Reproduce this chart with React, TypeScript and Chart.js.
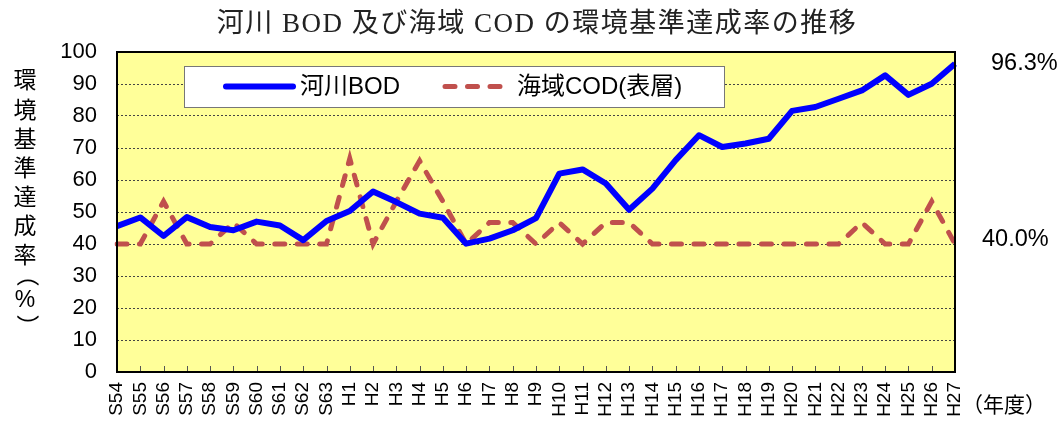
import { useEffect, useRef } from 'react';
import { Chart, registerables } from 'chart.js';

Chart.register(...registerables);

const categories = [
  'S54', 'S55', 'S56', 'S57', 'S58', 'S59', 'S60', 'S61', 'S62', 'S63',
  'H1', 'H2', 'H3', 'H4', 'H5', 'H6', 'H7', 'H8', 'H9', 'H10',
  'H11', 'H12', 'H13', 'H14', 'H15', 'H16', 'H17', 'H18', 'H19', 'H20',
  'H21', 'H22', 'H23', 'H24', 'H25', 'H26', 'H27',
];

const riverBOD = [
  45.6, 48.3, 42.5, 48.4, 45.3, 44.3, 47.0, 45.8, 41.2, 47.2,
  50.3, 56.4, 53.1, 49.5, 48.2, 40.1, 41.7, 44.3, 48.1, 62.0,
  63.3, 58.9, 50.7, 57.3, 66.2, 74.0, 70.3, 71.4, 72.9, 81.6,
  82.8, 85.4, 88.0, 92.7, 86.6, 90.1, 96.3,
];

const seaCOD = [
  40.0, 40.0, 53.3, 40.0, 40.0, 46.7, 40.0, 40.0, 40.0, 40.0,
  66.7, 40.0, 53.3, 66.0, 53.3, 40.0, 46.7, 46.7, 40.0, 46.7,
  40.0, 46.7, 46.7, 40.0, 40.0, 40.0, 40.0, 40.0, 40.0, 40.0,
  40.0, 40.0, 46.7, 40.0, 40.0, 53.3, 40.0,
];

const yTickValues = [0, 10, 20, 30, 40, 50, 60, 70, 80, 90, 100];

const titleText = '河川 BOD 及び海域 COD の環境基準達成率の推移';
const yTitleChars = ['環', '境', '基', '準', '達', '成', '率', '（', '%', '）'];
const seriesNames = ['河川BOD', '海域COD(表層)'];
const xUnitText = '（年度）';

const SANS = "'Liberation Sans', 'Noto Sans CJK JP', sans-serif";
const CJK = "'Liberation Sans', 'Noto Sans CJK JP', sans-serif";
const SERIF = "'Liberation Serif', 'Noto Sans CJK JP', serif";

const BLUE = '#0000FF';
const RED = '#C0504D';

export default function App() {
  const canvasRef = useRef<HTMLCanvasElement | null>(null);

  useEffect(() => {
    document.body.style.margin = '0';
    const canvas = canvasRef.current;
    if (!canvas) return;

    const decor = {
      id: 'decor',
      beforeDraw(chart: any) {
        const { ctx, chartArea: a } = chart;
        ctx.save();
        ctx.fillStyle = '#ffffff';
        ctx.fillRect(0, 0, chart.width, chart.height);
        ctx.fillStyle = '#FFFF99';
        ctx.fillRect(a.left, a.top, a.right - a.left, a.bottom - a.top);
        ctx.restore();
      },
      afterDraw(chart: any) {
        const { ctx, chartArea: a } = chart;
        const xs = chart.scales.x;
        const ys = chart.scales.y;
        ctx.save();

        // x tick marks (inward)
        ctx.strokeStyle = '#555';
        ctx.lineWidth = 1;
        for (let i = 1; i < categories.length - 1; i++) {
          const px = Math.round(xs.getPixelForValue(i)) + 0.5;
          ctx.beginPath();
          ctx.moveTo(px, a.bottom);
          ctx.lineTo(px, a.bottom - 6);
          ctx.stroke();
        }

        // frame
        ctx.strokeStyle = '#000';
        ctx.lineWidth = 2;
        ctx.strokeRect(a.left, a.top, a.right - a.left, a.bottom - a.top);

        // legend
        const lx = 184, ly = 66, lw = 540, lh = 41;
        ctx.fillStyle = '#fff';
        ctx.fillRect(lx, ly, lw, lh);
        ctx.strokeStyle = '#777';
        ctx.lineWidth = 1;
        ctx.strokeRect(lx + 0.5, ly + 0.5, lw, lh);
        const cy = ly + lh / 2;
        ctx.lineCap = 'round';
        ctx.strokeStyle = BLUE;
        ctx.lineWidth = 6;
        ctx.beginPath();
        ctx.moveTo(226, cy);
        ctx.lineTo(293, cy);
        ctx.stroke();
        ctx.strokeStyle = RED;
        ctx.lineWidth = 5;
        ctx.setLineDash([10, 12.5]);
        ctx.beginPath();
        ctx.moveTo(445, cy);
        ctx.lineTo(500, cy);
        ctx.stroke();
        ctx.setLineDash([]);
        ctx.fillStyle = '#000';
        ctx.font = `24px ${CJK}`;
        ctx.textBaseline = 'middle';
        ctx.textAlign = 'left';
        ctx.fillText(seriesNames[0], 300, cy + 1);
        ctx.fillText(seriesNames[1], 517, cy + 1);

        // title
        ctx.font = `27px ${SERIF}`;
        (ctx as any).letterSpacing = '1.5px';
        ctx.fillStyle = '#222';
        ctx.textAlign = 'center';
        ctx.fillText(titleText, 537, 25);
        (ctx as any).letterSpacing = '0px';

        // y axis vertical title
        ctx.font = `23px ${CJK}`;
        ctx.fillStyle = '#000';
        const yPos = [82, 112, 141, 170, 199, 228, 257, 281, 301, 320];
        yTitleChars.forEach((ch, i) => {
          if (ch === '（' || ch === '）') {
            ctx.save();
            ctx.translate(25, yPos[i]);
            ctx.rotate(Math.PI / 2);
            ctx.textAlign = 'center';
            ctx.fillText(ch, ch === '（' ? -6 : 6, 0);
            ctx.restore();
          } else {
            ctx.fillText(ch, 25, yPos[i]);
          }
        });

        // end-value annotations
        ctx.textAlign = 'left';
        ctx.font = `23.5px ${SANS}`;
        const lastB = riverBOD[riverBOD.length - 1];
        const lastC = seaCOD[seaCOD.length - 1];
        ctx.fillText(`${lastB.toFixed(1)}%`, 991, ys.getPixelForValue(lastB));
        ctx.fillText(`${lastC.toFixed(1)}%`, 982, ys.getPixelForValue(lastC) - 4);

        // x unit
        ctx.font = `21px ${CJK}`;
        ctx.fillText(xUnitText, 962, 406);

        ctx.restore();
      },
    };

    const chart = new Chart(canvas, {
      type: 'line',
      data: {
        labels: categories,
        datasets: [
          {
            label: seriesNames[0],
            data: riverBOD,
            borderColor: BLUE,
            backgroundColor: BLUE,
            borderWidth: 6,
            pointRadius: 0,
            tension: 0,
            borderJoinStyle: 'round',
          },
          {
            label: seriesNames[1],
            data: seaCOD,
            borderColor: RED,
            backgroundColor: RED,
            borderWidth: 5,
            borderDash: [10, 12.5],
            borderCapStyle: 'round',
            pointRadius: 0,
            tension: 0,
          },
        ],
      },
      options: {
        responsive: false,
        animation: false,
        layout: { padding: { top: 52, right: 106, left: 0, bottom: 0 } },
        plugins: {
          legend: { display: false },
          title: { display: false },
          tooltip: { enabled: false },
        },
        scales: {
          x: {
            offset: false,
            grid: { display: false, drawTicks: false },
            border: { display: false },
            ticks: {
              autoSkip: false,
              minRotation: 90,
              maxRotation: 90,
              padding: 10,
              color: '#000',
              font: { family: SANS, size: 19 },
            },
            afterFit(scale: any) {
              scale.height = 51;
            },
          },
          y: {
            min: 0,
            max: 100,
            afterBuildTicks(scale: any) {
              scale.ticks = yTickValues.map((v) => ({ value: v }));
            },
            grid: {
              color: (c: any) => (c.tick && (c.tick.value === 0 || c.tick.value === 100) ? 'rgba(0,0,0,0)' : '#444'),
              lineWidth: 1,
              drawTicks: false,
            },
            border: { display: false, dash: [2, 2] },
            ticks: {
              padding: 20,
              color: '#000',
              font: { family: SANS, size: 22 },
            },
            afterFit(scale: any) {
              scale.width = 117;
            },
          },
        },
      },
      plugins: [decor],
    } as any);

    return () => chart.destroy();
  }, []);

  return <canvas ref={canvasRef} width={1061} height={423} style={{ display: 'block', width: 1061, height: 423 }} />;
}
